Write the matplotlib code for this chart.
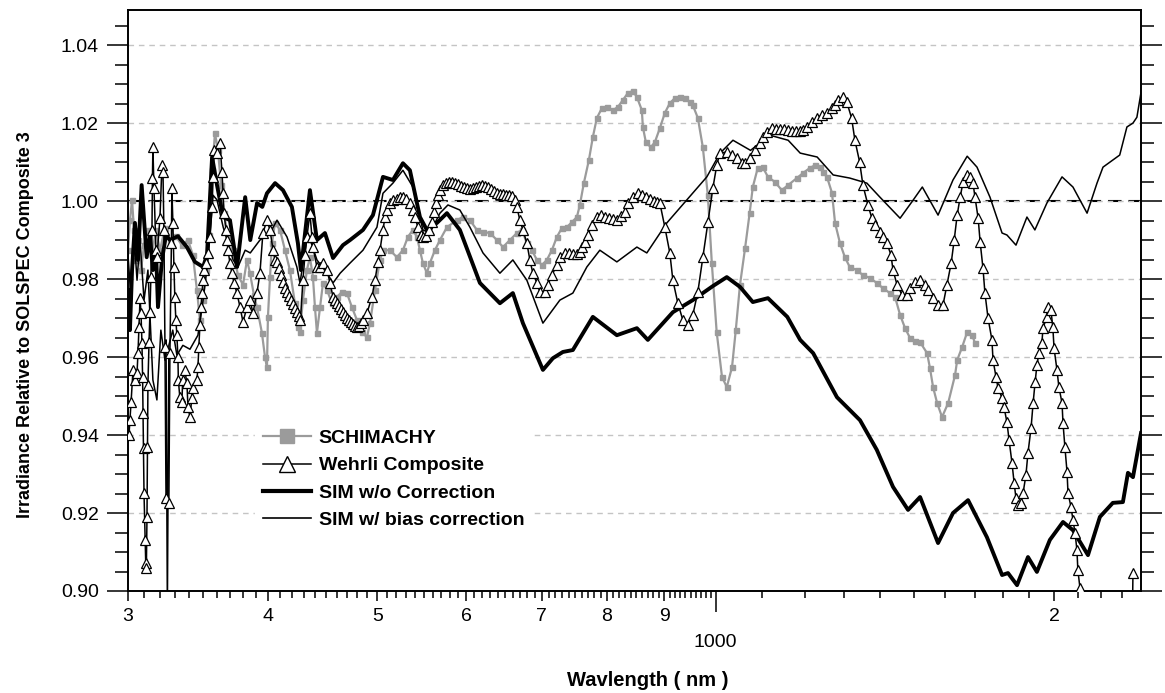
import matplotlib
matplotlib.use("Agg")
import matplotlib.pyplot as plt
from matplotlib.ticker import FixedLocator, FixedFormatter, MultipleLocator, NullLocator, NullFormatter, FormatStrFormatter
from matplotlib.lines import Line2D

plt.rcParams['font.family'] = ['Liberation Sans', 'DejaVu Sans']

# ---------------- data ----------------
sch_wl = [300, 301.2, 302.5, 303.7, 305.0, 306.2, 308.1, 310.0, 312.5, 315.1,
          317.7, 320.3, 323.6, 326.9, 330.9, 335.0, 339.2, 342.6, 345.5, 347.6,
          349.8, 352.0, 354.2, 356.4, 358.5, 360.7, 363.0, 365.2, 368.2, 372.0,
          375.8, 379.7, 382.8, 385.2, 388.3, 390.7, 394.7, 397.2, 398.8, 399.6,
          401.3, 402.9, 405.4, 409.6, 413.8, 418.0, 422.3, 424.9, 426.6, 429.3,
          432.8, 435.5, 438.2, 440.0, 441.8, 444.6, 447.3, 451.0, 455.6, 460.3,
          465.0, 469.8, 474.6, 479.5, 484.5, 489.5, 492.5, 497.6, 502.7, 505.8,
          513.1, 520.4, 526.9, 532.3, 537.8, 542.2, 545.6, 548.9, 553.4, 556.8,
          562.6, 568.4, 576.6, 588.5, 595.8, 604.4, 613.1, 620.8, 629.7, 638.8,
          646.7, 656.0, 665.4, 672.3, 679.2, 686.2, 693.3, 700.4, 707.6, 714.9,
          722.3, 729.7, 737.2, 744.8, 752.5, 757.1, 763.3, 771.2, 777.5, 783.9,
          792.0, 800.2, 810.1, 818.4, 826.8, 835.3, 843.9, 850.9, 859.6, 861.4,
          866.7, 875.6, 882.8, 891.9, 901.1, 910.3, 919.7, 929.2, 938.7, 948.4,
          954.2, 964.1, 974.0, 984.0, 992.1, 1002, 1013, 1023, 1034, 1042,
          1051, 1062, 1072, 1079, 1090, 1101, 1113, 1129, 1145, 1160,
          1181, 1196, 1213, 1226, 1238, 1246, 1256, 1269, 1277, 1290,
          1303, 1316, 1335, 1352, 1371, 1391, 1408, 1429, 1444, 1459,
          1474, 1489, 1505, 1520, 1542, 1551, 1561, 1574, 1590, 1610,
          1633, 1640, 1657, 1674, 1691, 1701]
sch_val = [0.9874, 0.9951, 1.0003, 0.9926, 0.9849, 0.99, 0.9823, 0.9887, 0.9926, 0.9862,
           0.9926, 0.9874, 0.9931, 0.99, 0.991, 0.9887, 0.99, 0.9862, 0.9772, 0.9695,
           0.9746, 0.9823, 0.9913, 1.0079, 1.0174, 1.0131, 1.0041, 0.9969, 0.9908, 0.9874,
           0.981, 0.9785, 0.9849, 0.9815, 0.9759, 0.9728, 0.9662, 0.96, 0.9574, 0.9703,
           0.9805, 0.9892, 0.9944, 0.9926, 0.9874, 0.9823, 0.9738, 0.9677, 0.9664, 0.9746,
           0.9823, 0.9856, 0.9805, 0.9728, 0.9662, 0.9728, 0.979, 0.9772, 0.9738, 0.9754,
           0.9767, 0.9764, 0.9728, 0.9695, 0.9664, 0.9651, 0.9687, 0.9772, 0.9849, 0.9874,
           0.9874, 0.9856, 0.9874, 0.9908, 0.9926, 0.9908, 0.9874, 0.9841, 0.9815, 0.9841,
           0.9874, 0.99, 0.9933, 0.9951, 0.9959, 0.9951, 0.9926, 0.9921, 0.9918, 0.99,
           0.9882, 0.99, 0.9918, 0.9926, 0.9892, 0.9874, 0.9849, 0.9836, 0.9849, 0.9874,
           0.9908, 0.9931, 0.9933, 0.9946, 0.9959, 0.999, 1.0046, 1.0105, 1.0164, 1.0213,
           1.0238, 1.0241, 1.0233, 1.0241, 1.0259, 1.0277, 1.0282, 1.0267, 1.0233, 1.019,
           1.0151, 1.0138, 1.0151, 1.0187, 1.0226, 1.0251, 1.0264, 1.0267, 1.0264, 1.0254,
           1.0246, 1.0213, 1.0138, 1.0015, 0.9841, 0.9664, 0.9549, 0.9523, 0.9574, 0.9669,
           0.9785, 0.9879, 0.9969, 1.0036, 1.0085, 1.0087, 1.0062, 1.0049, 1.0028, 1.0041,
           1.0059, 1.0072, 1.0085, 1.0092, 1.0087, 1.0074, 1.0062, 1.0021, 0.9944, 0.9892,
           0.9856, 0.9831, 0.9823, 0.981, 0.9803, 0.979, 0.9777, 0.9764, 0.9754, 0.9708,
           0.9674, 0.9649, 0.9641, 0.9638, 0.961, 0.9572, 0.9523, 0.9482, 0.9446, 0.9482,
           0.9554, 0.9592, 0.9626, 0.9664, 0.9656, 0.9636]

weh_wl = [300.6, 301.2, 301.9, 303.1, 304.3, 305.6, 306.2, 306.8, 307.5, 308.1,
          308.7, 309.1, 309.4, 309.7, 310.0, 310.7, 311.1, 311.5, 311.9, 312.2,
          312.5, 313.2, 313.8, 314.4, 315.1, 315.4, 315.7, 316.4, 317.7, 318.3,
          320.3, 321.6, 322.3, 322.9, 323.6, 324.3, 326.2, 326.9, 327.9, 328.2,
          328.9, 329.6, 330.2, 330.9, 331.6, 332.3, 332.6, 333.6, 335.0, 335.6,
          337.0, 338.5, 339.2, 340.6, 341.9, 342.6, 345.5, 346.2, 346.9, 347.6,
          348.4, 349.1, 349.8, 350.5, 352.0, 353.4, 354.9, 356.4, 357.1, 357.8,
          360.0, 362.2, 363.7, 364.5, 365.2, 366.7, 367.4, 368.2, 369.7, 371.2,
          372.8, 375.0, 377.4, 379.7, 382.8, 385.2, 387.5, 390.7, 393.1, 395.5,
          398.8, 401.3, 403.8, 405.4, 407.1, 408.7, 410.4, 412.1, 413.8, 415.5,
          417.2, 418.9, 420.6, 422.3, 424.0, 425.8, 427.1, 429.3, 431.1, 432.8,
          435.5, 437.3, 438.2, 441.8, 444.6, 447.3, 451.0, 453.8, 456.6, 458.4,
          460.3, 462.2, 464.1, 466.0, 467.9, 469.8, 471.7, 473.7, 475.6, 477.6,
          479.5, 481.5, 483.5, 485.5, 489.5, 494.5, 497.6, 500.6, 502.7, 505.8,
          507.9, 510.0, 513.1, 516.2, 520.4, 523.6, 526.9, 530.1, 534.5, 537.8,
          540.0, 543.3, 546.7, 548.9, 552.3, 555.7, 559.1, 561.4, 563.7, 566.0,
          568.4, 571.9, 575.4, 579.0, 582.6, 586.1, 589.7, 593.3, 597.0, 600.7,
          604.4, 608.1, 611.9, 615.7, 619.5, 623.3, 627.1, 631.0, 634.9, 638.8,
          642.7, 646.7, 650.7, 654.6, 658.6, 662.7, 665.4, 669.5, 673.7, 679.2,
          683.4, 687.6, 693.3, 697.5, 704.7, 709.1, 714.9, 722.3, 726.7, 734.2,
          740.2, 746.3, 752.5, 757.1, 760.2, 764.9, 769.6, 775.9, 783.9, 790.3,
          796.9, 803.5, 810.1, 816.7, 823.4, 830.2, 835.3, 843.9, 852.6, 859.6,
          866.7, 873.8, 881.0, 886.4, 891.9, 901.1, 910.3, 916.0, 925.4, 934.9,
          944.5, 954.2, 964.1, 974.0, 984.0, 994.2, 1002.2, 1008.5, 1023, 1034,
          1044, 1055, 1062, 1072, 1083, 1094, 1101, 1110, 1122, 1131,
          1141, 1150, 1160, 1169, 1179, 1189, 1196, 1206, 1218, 1231,
          1243, 1256, 1269, 1277, 1285, 1298, 1308, 1321, 1330, 1343,
          1352, 1366, 1377, 1385, 1399, 1408, 1420, 1432, 1438, 1450,
          1465, 1480, 1489, 1505, 1520, 1535, 1545, 1561, 1577, 1593,
          1606, 1620, 1630, 1640, 1650, 1660, 1674, 1684, 1694, 1701,
          1712, 1719, 1729, 1736, 1747, 1761, 1765, 1776, 1783, 1798,
          1805, 1816, 1824, 1835, 1843, 1850, 1858, 1869, 1877, 1888,
          1896, 1908, 1916, 1924, 1931, 1939, 1951, 1955, 1971, 1975,
          1987, 1995, 2000, 2012, 2020, 2033, 2037, 2045, 2054, 2058,
          2071, 2079, 2088, 2096, 2100, 2109, 2122, 2346, 2351]
weh_val = [0.94, 0.9438, 0.9485, 0.9567, 0.9541, 0.9559, 0.961, 0.9677, 0.9751, 0.9713,
           0.9636, 0.9549, 0.9456, 0.9367, 0.9251, 0.9131, 0.9072, 0.9059, 0.919, 0.9369,
           0.9528, 0.9638, 0.9715, 0.9805, 0.9926, 1.0059, 1.0138, 1.0033, 0.9874, 0.9856,
           0.9956, 1.0092, 1.0074, 0.9926, 0.9626, 0.9238, 0.9226, 0.961, 0.9892, 1.0033,
           0.9944, 0.9831, 0.9754, 0.9695, 0.9656, 0.96, 0.9541, 0.9497, 0.9485, 0.9541,
           0.9567, 0.9533, 0.9472, 0.9446, 0.9495, 0.9521, 0.9541, 0.9574, 0.9626, 0.9682,
           0.9728, 0.9764, 0.9797, 0.9823, 0.9841, 0.9867, 0.9908, 0.9985, 1.0062, 1.0131,
           1.0123, 1.0149, 1.0074, 1.0021, 0.9969, 0.9926, 0.99, 0.9874, 0.9841, 0.9815,
           0.979, 0.9764, 0.9728, 0.969, 0.9728, 0.9746, 0.9713, 0.9764, 0.9815, 0.9918,
           0.9951, 0.9926, 0.9874, 0.9849, 0.9844, 0.9828, 0.981, 0.9792, 0.9777, 0.9767,
           0.9756, 0.9746, 0.9736, 0.9726, 0.9715, 0.9705, 0.9695, 0.9797, 0.9862, 0.9908,
           0.9969, 0.9908, 0.9882, 0.9831, 0.9831, 0.9841, 0.9823, 0.979, 0.9754, 0.9746,
           0.9738, 0.9731, 0.9723, 0.9715, 0.9708, 0.97, 0.9695, 0.969, 0.9685, 0.9679,
           0.9677, 0.9679, 0.9687, 0.9695, 0.9713, 0.9754, 0.9797, 0.9844, 0.9874, 0.9926,
           0.9959, 0.9977, 0.9995, 1.0003, 1.0005, 1.001, 1.001, 1.0005, 0.9995, 0.9977,
           0.9959, 0.9933, 0.9913, 0.9908, 0.991, 0.9926, 0.9946, 0.9972, 0.9995, 1.0015,
           1.0028, 1.0041, 1.0046, 1.0049, 1.0049, 1.0046, 1.0044, 1.0038, 1.0036, 1.0033,
           1.0031, 1.0033, 1.0036, 1.0038, 1.0041, 1.0038, 1.0036, 1.0031, 1.0026, 1.002,
           1.0018, 1.0018, 1.0015, 1.0015, 1.0013, 1.0003, 0.9985, 0.9951, 0.9926, 0.9892,
           0.9849, 0.9815, 0.979, 0.9767, 0.9767, 0.9785, 0.981, 0.9836, 0.9856, 0.9867,
           0.9867, 0.9864, 0.9864, 0.9869, 0.9882, 0.9895, 0.9913, 0.9938, 0.9959, 0.9964,
           0.9959, 0.9956, 0.9954, 0.9951, 0.9962, 0.9972, 0.9995, 1.001, 1.002, 1.0015,
           1.001, 1.0005, 1.0, 0.9997, 0.9995, 0.9933, 0.9867, 0.9797, 0.9738, 0.9695,
           0.9682, 0.9708, 0.9767, 0.9856, 0.9946, 1.0033, 1.0092, 1.0123, 1.0126, 1.0118,
           1.011, 1.0097, 1.0097, 1.011, 1.0131, 1.0149, 1.0164, 1.0177, 1.0187, 1.0185,
           1.0185, 1.0185, 1.0182, 1.018, 1.018, 1.018, 1.0182, 1.019, 1.0203, 1.0213,
           1.0221, 1.0226, 1.0238, 1.0246, 1.0259, 1.0267, 1.0254, 1.0213, 1.0156, 1.01,
           1.0041, 0.999, 0.9956, 0.9938, 0.9921, 0.9908, 0.9892, 0.9862, 0.9823, 0.9785,
           0.9759, 0.9759, 0.9777, 0.9792, 0.9797, 0.9785, 0.9772, 0.9751, 0.9733, 0.9733,
           0.9785, 0.9841, 0.99, 0.9964, 1.001, 1.0049, 1.0067, 1.0062, 1.0046, 1.001,
           0.9956, 0.9895, 0.9828, 0.9764, 0.97, 0.9644, 0.9592, 0.9549, 0.9521, 0.9495,
           0.9472, 0.9433, 0.9387, 0.9328, 0.9277, 0.9238, 0.922, 0.9226, 0.9251, 0.9297,
           0.9354, 0.9418, 0.9482, 0.9536, 0.9579, 0.961, 0.9636, 0.9674, 0.9703, 0.9728,
           0.9721, 0.9677, 0.9623, 0.9567, 0.9523, 0.9482, 0.9431, 0.9369, 0.9305, 0.9251,
           0.9215, 0.9182, 0.9149, 0.9105, 0.9054, 0.9008, 0.885, 0.885, 0.9047]

sim_wl = [300, 301.2, 302.5, 304.3, 306.2, 308.5, 311.7, 313.8, 315.7, 317.7,
          319.0, 321.6, 324.3, 326.9, 332.3, 338.5, 344.1, 349.9, 352.7, 356.4,
          360.0, 364.6, 369.7, 375.1, 381.4, 385.4, 390.8, 395.0, 398.8, 405.5,
          412.1, 419.7, 424.9, 427.5, 435.5, 441.8, 449.1, 456.6, 466.0, 472.8,
          485.5, 495.5, 505.8, 516.2, 526.9, 534.5, 545.6, 553.4, 564.9, 576.6,
          592.1, 616.9, 642.7, 660.0, 673.7, 701.9, 716.4, 731.2, 746.3, 777.5,
          816.7, 850.9, 870.2, 916.0, 954.2, 994.2, 1023, 1051, 1079, 1113,
          1158, 1189, 1221, 1282, 1344, 1391, 1438, 1483, 1520, 1577,
          1626, 1677, 1743, 1798, 1820, 1854, 1896, 1931, 1983, 2037,
          2079, 2144, 2197, 2256, 2303, 2327, 2351, 2390]
sim_val = [0.9772, 0.9669, 0.9823, 0.9944, 0.9849, 1.0041, 0.9856, 0.9913, 0.9823, 0.9874,
           0.9728, 0.9849, 0.9913, 0.99, 0.991, 0.9882, 0.9844, 0.9831, 0.9862, 1.0113,
           1.0041, 0.9959, 0.9951, 0.9831, 1.001, 0.99, 0.9995, 0.9985, 1.002, 1.0046,
           1.0028, 0.9985, 0.9892, 0.9823, 1.0028, 0.99, 0.9918, 0.9854, 0.9887, 0.99,
           0.9926, 0.9964, 1.0062, 1.0054, 1.0097, 1.0079, 0.9959, 0.9926, 0.9944, 0.9969,
           0.9926, 0.979, 0.9738, 0.9764, 0.9687, 0.9567, 0.9597, 0.9613, 0.9618, 0.9703,
           0.9656, 0.9674, 0.9644, 0.9715, 0.9746, 0.9782, 0.9805, 0.978, 0.9741, 0.9751,
           0.9703, 0.9644, 0.961, 0.9497, 0.9438, 0.9362, 0.9267, 0.9208, 0.9241, 0.9123,
           0.92, 0.9233, 0.9138, 0.9041, 0.9046, 0.9015, 0.9087, 0.9049, 0.9131, 0.9177,
           0.9156, 0.9092, 0.919, 0.9226, 0.9228, 0.9303, 0.9292, 0.9405]

bias_wl = [300, 301.9, 303.7, 305.6, 307.5, 310.0, 312.5, 315.7, 318.3, 320.9,
           323.6, 324.3, 325.2, 326.2, 328.8, 331.6, 335.7, 340.6, 346.2, 349.9,
           353.4, 357.1, 360.0, 364.6, 372.1, 375.8, 381.4, 385.4, 393.1, 401.3,
           407.1, 415.5, 424.0, 426.7, 433.7, 441.8, 451.0, 456.6, 463.3, 472.8,
           485.5, 499.6, 505.8, 516.2, 526.9, 537.8, 548.9, 556.8, 568.4, 577.8,
           592.1, 604.4, 620.8, 642.7, 660.0, 679.2, 701.9, 726.7, 746.3, 768.0,
           788.7, 816.7, 850.9, 868.4, 904.8, 942.6, 982.0, 1009, 1036, 1074,
           1117, 1160, 1189, 1231, 1272, 1316, 1363, 1400, 1459, 1499,
           1527, 1577, 1626, 1674, 1708, 1754, 1798, 1816, 1850, 1892,
           1923, 1971, 2033, 2079, 2140, 2184, 2211, 2288, 2322, 2351,
           2370, 2400]
bias_val = [0.9862, 0.9746, 0.9913, 0.9797, 0.99, 0.9746, 0.9823, 0.9541, 0.949, 0.9669,
            0.9592, 0.9644, 0.895, 0.963, 0.9669, 0.9605, 0.963, 0.962, 0.9656, 0.9746,
            0.9849, 1.0015, 1.0003, 0.9933, 0.9849, 0.9831, 0.9874, 0.9867, 0.99, 0.9918,
            0.9951, 0.9908, 0.9831, 0.979, 0.9918, 0.9849, 0.9815, 0.979, 0.9815, 0.9841,
            0.9874, 0.9933, 1.002, 1.0046, 1.0079, 1.0036, 0.9926, 0.9918, 0.9969, 0.999,
            0.9977, 0.9933, 0.9867, 0.9815, 0.9849, 0.9797, 0.9687, 0.9746, 0.9764, 0.9831,
            0.9874, 0.9844, 0.9882, 0.9867, 0.9944, 1.0003, 1.0062, 1.0123, 1.0156, 1.013,
            1.0169, 1.0156, 1.0123, 1.0113, 1.0067, 1.0059, 1.0046, 1.001, 0.9956, 1.0003,
            1.0036, 0.9964, 1.0054, 1.0115, 1.0087, 1.001, 0.9918, 0.9913, 0.9887, 0.9959,
            0.9926, 0.9995, 1.0062, 1.0036, 0.9969, 1.0046, 1.0087, 1.0118, 1.019, 1.02,
            1.0215, 1.031]

series_labels = ['SCHIMACHY', 'Wehrli Composite', 'SIM w/o Correction', 'SIM w/ bias correction']
xtick_major = [300, 400, 500, 600, 700, 800, 900, 2000]
xtick_major_labels = ['3', '4', '5', '6', '7', '8', '9', '2']
xtick_decade = [1000]
xtick_decade_labels = ['1000']
xtick_minor = [v for v in range(310, 1000, 10) if v % 100 != 0] + [v for v in range(1100, 2400, 100) if v != 2000]
reference_level = 1.0

GRAY = '#9b9b9b'

# ---------------- figure ----------------
fig = plt.figure(figsize=(11.65, 6.93), dpi=100)
ax = fig.add_axes([0.10987, 0.14719, 0.86953, 0.83838])
ax.set_xscale('log')
ax.set_xlim(300, 2390)
ax.set_ylim(0.90, 1.049)

ax.grid(axis='y', which='major', color='#c4c4c4', linestyle=(0, (4, 3.5)), linewidth=1.0, zorder=0)
ax.grid(axis='x', visible=False)
ax.axhline(reference_level, color='black', linestyle=(0, (6.5, 3.3)), linewidth=1.5, zorder=1)

ax.plot(sch_wl, sch_val, color=GRAY, lw=1.6, marker='s', ms=3.6, mfc=GRAY, mec=GRAY, zorder=2)
ax.plot(weh_wl, weh_val, color='black', lw=1.1, marker='^', ms=7.2, mfc='white', mec='black', mew=0.9, zorder=4)
ax.plot(sim_wl, sim_val, color='black', lw=2.8, solid_joinstyle='round', zorder=3)
ax.plot(bias_wl, bias_val, color='black', lw=1.1, zorder=3)

# spines
for s in ax.spines.values():
    s.set_linewidth(1.4)

# x ticks
ax.xaxis.set_major_locator(FixedLocator(xtick_major))
ax.xaxis.set_major_formatter(FixedFormatter(xtick_major_labels))
ax.xaxis.set_minor_locator(FixedLocator(xtick_minor))
ax.xaxis.set_minor_formatter(NullFormatter())
ax.tick_params(axis='x', which='major', direction='out', length=7.5, width=1.1, pad=5, labelsize=14, top=False)
ax.tick_params(axis='x', which='minor', direction='out', length=5, width=1.1, top=False)

# y ticks
ax.yaxis.set_major_locator(MultipleLocator(0.02))
ax.yaxis.set_major_formatter(FormatStrFormatter('%.2f'))
ax.yaxis.set_minor_locator(MultipleLocator(0.005))
ax.tick_params(axis='y', which='major', direction='out', length=15, width=1.1, pad=6, labelsize=14,
               left=True, right=True, labelleft=True, labelright=False)
ax.tick_params(axis='y', which='minor', direction='out', length=9.5, width=1.1, left=True, right=True)

# decade tick at 1000 (longer, label lower)
sec = ax.secondary_xaxis('bottom')
sec.set_xticks(xtick_decade, labels=xtick_decade_labels)
sec.xaxis.set_minor_locator(NullLocator())
sec.xaxis.set_minor_formatter(NullFormatter())
sec.tick_params(axis='x', which='major', direction='out', length=15, width=1.1, pad=16, labelsize=14)
sec.tick_params(axis='x', which='minor', length=0)
sec.spines['bottom'].set_visible(False)

# labels
ax.set_ylabel('Irradiance Relative to SOLSPEC Composite 3', fontsize=13, fontweight='bold')
ax.yaxis.set_label_coords(-0.093, 0.458)
ax.set_xlabel('Wavlength ( nm )', fontsize=14.5, fontweight='bold')
ax.xaxis.set_label_coords(0.513, -0.137)

# legend
handles = [
    Line2D([], [], color=GRAY, lw=1.6, marker='s', ms=10.5, mfc=GRAY, mec=GRAY),
    Line2D([], [], color='black', lw=1.1, marker='^', ms=12, mfc='white', mec='black', mew=1.0),
    Line2D([], [], color='black', lw=3.0),
    Line2D([], [], color='black', lw=1.2),
]
leg = ax.legend(handles, series_labels, loc='upper left', bbox_to_anchor=(0.1254, 0.2913),
                borderaxespad=0, borderpad=0.4, numpoints=1, handlelength=2.47, handletextpad=0.41,
                labelspacing=0.5, frameon=True, fancybox=False, framealpha=1.0,
                prop={'weight': 'bold', 'size': 14})
leg.get_frame().set_edgecolor('white')
leg.get_frame().set_facecolor('white')
leg.set_zorder(10)

fig.savefig('out.png', dpi=100)
